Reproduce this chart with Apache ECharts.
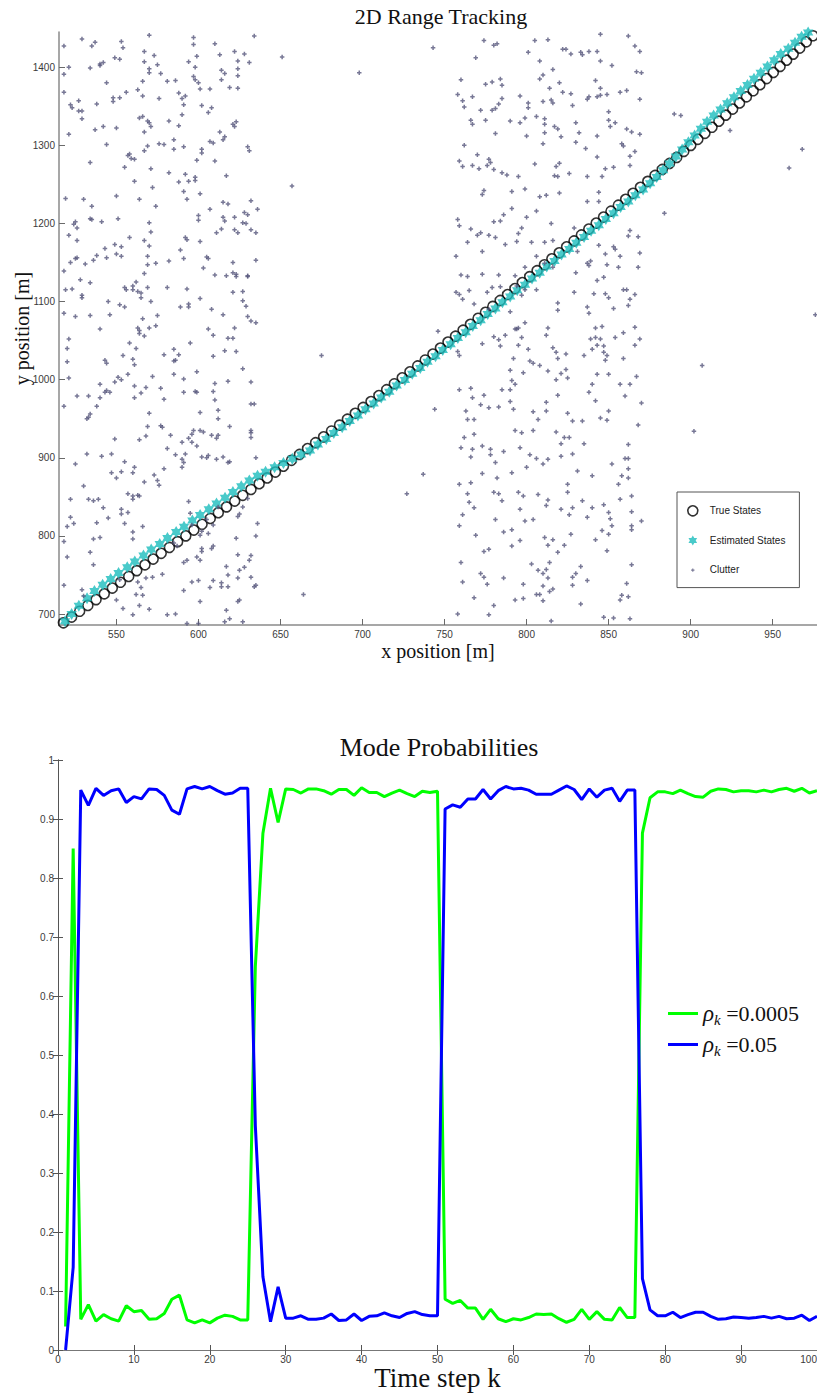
<!DOCTYPE html>
<html><head><meta charset="utf-8">
<script src="https://cdn.jsdelivr.net/npm/echarts@6/dist/echarts.min.js"></script>
<style>html,body{margin:0;padding:0;background:#fff}#c{width:817px;height:1395px}</style>
</head><body><div id="c"></div>
<script>
// ---------- Mode probabilities (time steps 1..100) ----------
const timeSteps = Array.from({length: 100}, (_, i) => i + 1);
const probRhoSmall = [0.04,0.85,0.052,0.077,0.049,0.060,0.053,0.049,0.075,0.065,
  0.067,0.052,0.053,0.062,0.086,0.093,0.051,0.046,0.051,0.046,
  0.054,0.059,0.057,0.051,0.051,0.65,0.876,0.952,0.894,0.951,
  0.950,0.944,0.951,0.951,0.948,0.942,0.950,0.950,0.940,0.953,
  0.945,0.945,0.938,0.944,0.949,0.943,0.938,0.947,0.945,0.947,
  0.086,0.079,0.084,0.071,0.071,0.052,0.069,0.053,0.048,0.053,
  0.051,0.055,0.061,0.060,0.061,0.053,0.047,0.052,0.069,0.052,
  0.065,0.052,0.051,0.072,0.055,0.055,0.876,0.936,0.946,0.946,
  0.943,0.949,0.943,0.938,0.937,0.947,0.951,0.950,0.946,0.948,
  0.948,0.946,0.949,0.946,0.950,0.952,0.947,0.952,0.944,0.948];
const probRhoLarge = [0.0,0.14,0.949,0.923,0.952,0.940,0.948,0.951,0.928,0.938,
  0.934,0.951,0.950,0.940,0.915,0.908,0.951,0.955,0.951,0.955,
  0.948,0.942,0.944,0.952,0.952,0.38,0.124,0.048,0.107,0.054,
  0.054,0.058,0.052,0.052,0.054,0.061,0.050,0.051,0.061,0.050,
  0.057,0.058,0.063,0.058,0.055,0.062,0.065,0.060,0.058,0.058,
  0.917,0.924,0.920,0.934,0.934,0.950,0.934,0.948,0.955,0.951,
  0.952,0.949,0.942,0.942,0.942,0.949,0.956,0.950,0.933,0.951,
  0.937,0.949,0.952,0.930,0.949,0.949,0.121,0.068,0.058,0.058,
  0.064,0.055,0.060,0.064,0.064,0.057,0.052,0.053,0.056,0.055,
  0.054,0.055,0.057,0.054,0.057,0.053,0.054,0.059,0.050,0.057];
const seriesNamesBottom = ['ρk =0.0005', 'ρk =0.05'];

// ---------- 2D tracking ----------
const trueX = [517.7,522.7,527.6,532.6,537.6,542.6,547.5,552.5,557.5,562.4,
  567.4,572.4,577.3,582.3,587.3,592.3,597.2,602.2,607.2,612.1,
  617.1,622.1,627.0,632.0,637.0,641.9,646.9,651.8,656.7,661.6,
  666.5,671.4,676.3,681.1,686.0,690.8,695.6,700.4,705.2,710.0,
  714.7,719.4,724.2,728.9,733.6,738.2,742.9,747.5,752.1,756.7,
  761.3,765.8,770.4,774.9,779.4,783.9,788.4,792.9,797.4,801.9,
  806.4,810.9,815.4,819.9,824.4,828.9,833.4,837.9,842.4,846.9,
  851.4,855.9,860.4,864.9,869.4,873.9,878.3,882.7,887.1,891.5,
  895.8,900.1,904.4,908.7,913.0,917.2,921.4,925.6,929.8,934.0,
  938.1,942.2,946.3,950.4,954.5,958.5,962.5,966.5,970.5,974.5];
const trueY = [688.8,696.2,703.6,711.1,718.5,725.9,733.3,740.7,748.2,755.6,
  763.0,770.4,777.8,785.3,792.7,800.1,807.5,814.9,822.4,829.8,
  837.2,844.6,852.0,859.5,866.9,874.3,881.8,889.3,896.8,904.3,
  911.8,919.3,926.8,934.3,941.8,949.4,956.9,964.5,972.0,979.6,
  987.2,994.8,1002.4,1010.0,1017.6,1025.2,1032.8,1040.4,1048.1,1055.7,
  1063.3,1070.9,1078.6,1086.2,1093.8,1101.4,1109.0,1116.6,1124.3,1131.9,
  1139.5,1147.1,1154.7,1162.4,1170.0,1177.6,1185.2,1192.8,1200.4,1208.1,
  1215.7,1223.3,1230.9,1238.5,1246.2,1253.8,1261.4,1269.1,1276.8,1284.5,
  1292.2,1299.9,1307.6,1315.3,1323.1,1330.8,1338.6,1346.4,1354.2,1362.0,
  1369.8,1377.6,1385.4,1393.2,1401.0,1408.9,1416.7,1424.5,1432.4,1440.2];
const estX = [518.7,522.7,527.1,532.1,536.6,541.6,546.5,551.3,556.6,561.2,
  566.5,571.2,576.4,581.1,586.4,591.2,596.3,601.0,606.3,611.0,
  616.2,621.0,626.1,631.0,636.0,640.9,646.4,651.8,657.2,662.6,
  668.0,672.8,677.9,682.5,687.6,692.2,697.2,701.8,706.8,711.4,
  716.3,720.8,725.8,730.3,735.2,739.6,744.5,748.9,753.7,758.1,
  762.9,767.2,772.0,776.3,781.0,785.3,790.0,794.3,799.0,803.3,
  808.0,812.3,817.0,821.3,826.0,830.3,835.0,839.3,844.0,848.3,
  853.0,857.3,862.0,866.3,871.0,875.3,879.3,883.2,887.1,891.0,
  894.8,898.6,902.4,906.2,910.0,914.0,918.2,922.3,926.4,930.5,
  934.6,938.6,942.7,946.8,950.9,954.9,959.5,963.6,967.6,971.6];
const estY = [690.8,700.2,710.6,720.1,729.5,737.4,745.0,752.4,760.0,767.3,
  775.1,782.6,789.6,797.5,804.9,811.8,819.6,826.7,834.1,841.5,
  849.0,856.1,863.6,870.8,876.9,882.3,887.8,893.3,898.8,904.3,
  909.3,916.9,924.1,931.9,939.1,947.0,954.2,962.1,969.4,977.2,
  984.5,992.5,999.6,1007.6,1014.9,1022.9,1030.1,1038.1,1045.4,1053.4,
  1060.6,1068.6,1075.9,1083.9,1091.1,1099.1,1106.3,1114.3,1121.6,1129.6,
  1136.8,1144.8,1152.0,1160.1,1167.3,1175.3,1182.5,1190.5,1197.7,1205.8,
  1213.0,1221.0,1228.2,1236.2,1243.5,1251.5,1259.4,1268.1,1276.8,1285.5,
  1294.7,1303.9,1312.6,1321.3,1330.1,1338.0,1345.8,1353.8,1361.6,1369.5,
  1377.3,1385.2,1393.0,1401.0,1408.8,1416.8,1423.6,1431.2,1438.8,1444.5];
const clutterPts = [
[518,1427],[529,1436],[535,1427],[537,1432],[553,1433],[554,1425],[570,1441],[597,1438],[597,1429],[610,1430],[634,1440],[567,1420],[573,1415],[521,1400],[518,1391],[534,1399],[540,1404],[540,1402],[542,1406],[549,1412],[552,1410],[567,1407],[570,1398],[570,1393],[575,1403],[577,1392],[594,1407],[598,1400],[599,1414],[613,1416],[622,1420],[628,1417],[624,1408],[624,1398],[624,1389],[631,1406],[614,1396],[616,1392],[614,1384],[566,1382],[581,1382],[586,1383],[597,1388],[598,1384],[600,1380],[601,1372],[607,1372],[619,1374],[624,1373],[544,1380],
[518,1368],[522,1352],[523,1348],[527,1357],[527,1344],[529,1344],[529,1334],[538,1353],[548,1361],[548,1356],[552,1361],[556,1368],[563,1371],[566,1363],[576,1360],[588,1367],[590,1360],[592,1363],[591,1352],[590,1339],[602,1351],[606,1342],[608,1348],[521,1314],[537,1320],[542,1324],[550,1322],[564,1335],[566,1337],[569,1331],[570,1329],[571,1324],[567,1317],[582,1331],[588,1325],[585,1307],[585,1295],[591,1298],[613,1317],[616,1311],[615,1307],[621,1327],[622,1324],[623,1330],[576,1302],[579,1301],[569,1299],[567,1293],[558,1289],[557,1287],[559,1283],[561,1282],[544,1301],[607,1305],[609,1303],[602,1295],[602,1290],[599,1281],[610,1280],[630,1298],[631,1293],[534,1278],[571,1270],[582,1265],[592,1263],[598,1259],[594,1254],[598,1255],[588,1253],[555,1272],[561,1254],[617,1261],
[519,1232],[530,1231],[535,1222],[550,1235],[564,1231],[574,1222],[572,1246],[591,1241],[593,1231],[601,1238],[607,1218],[615,1227],[618,1225],[632,1229],[636,1218],[622,1208],[630,1211],[628,1214],[615,1208],[616,1203],[600,1210],[600,1204],[521,1185],[524,1199],[525,1202],[526,1194],[526,1178],[534,1206],[535,1205],[541,1202],[551,1206],[570,1201],[571,1189],[601,1177],[592,1182],[593,1179],[611,1188],[614,1193],[622,1192],[624,1188],[627,1201],[629,1200],[632,1192],[635,1188],[558,1182],[567,1178],[570,1171],[549,1173],[553,1170],[543,1168],[538,1159],[536,1153],[544,1156],[550,1161],[553,1158],[569,1158],[569,1147],[574,1149],[522,1150],[525,1155],[526,1156],[531,1148],[589,1166],[591,1155],[582,1152],[605,1157],[606,1155],[603,1143],[610,1134],[617,1133],[621,1150],[621,1137],[623,1135],[623,1132],[630,1133],[635,1153],
[518,1139],[528,1128],[534,1124],[529,1105],[529,1108],[519,1115],[523,1116],[518,1085],[525,1081],[534,1082],[540,1065],[545,1100],[546,1083],[552,1096],[555,1093],[555,1118],[556,1115],[560,1120],[560,1115],[562,1125],[563,1113],[565,1111],[565,1105],[567,1136],[569,1118],[571,1100],[575,1082],[563,1066],[566,1078],[570,1066],[574,1069],[581,1118],[589,1093],[594,1097],[594,1093],[593,1116],[601,1104],[608,1090],[615,1083],[621,1112],[627,1101],[629,1094],[630,1081],[632,1075],[635,1073],[622,1066],[627,1113],[630,1132],[651,1413],[657,1248],[698,1393],
[521,1052],[520,1040],[520,1023],[521,1002],[518,966],[526,979],[533,979],[533,952],[532,950],[534,956],[538,966],[540,977],[540,994],[543,1025],[544,1021],[543,984],[544,986],[546,984],[549,997],[551,1003],[553,1000],[554,1031],[557,1007],[558,1047],[560,1026],[561,1019],[562,1040],[561,992],[561,977],[564,1063],[564,1059],[567,1056],[568,990],[572,1004],[570,957],[569,940],[568,928],[564,923],[565,983],[579,1032],[585,1039],[586,1025],[585,1024],[588,1032],[585,1007],[591,1001],[595,1047],[599,1010],[598,985],[601,958],[599,984],[591,984],[577,989],[579,975],[577,941],[578,939],[581,912],[583,929],[590,920],[592,905],[586,904],[590,898],[591,894],[590,888],[594,925],[596,920],[599,915],[596,930],[597,935],[601,935],[603,933],[602,901],[605,900],[606,903],[609,1057],[609,1030],[609,985],[610,974],[610,995],[612,961],[612,950],[608,929],[612,929],[611,925],[611,898],[615,901],[616,1037],[618,1053],[621,1053],[623,1036],[618,998],[619,940],[618,894],[619,895],[627,1014],[632,997],[632,969],[634,969],[632,932],[632,926],[635,900],[606,1065],
[518,793],[522,824],[524,816],[520,812],[520,773],[518,737],[525,892],[522,847],[530,864],[533,847],[536,845],[539,847],[542,836],[545,823],[536,796],[540,798],[534,779],[553,828],[553,834],[555,816],[557,854],[557,830],[560,847],[560,851],[563,852],[564,851],[567,869],[561,888],[560,881],[555,895],[553,882],[550,874],[547,881],[549,924],[547,905],[541,902],[532,905],[560,805],[560,796],[566,812],[573,878],[575,871],[576,865],[579,886],[594,844],[595,829],[596,814],[601,801],[602,784],[606,803],[609,787],[608,784],[599,773],[601,769],[602,780],[593,769],[591,766],[587,787],[585,791],[578,751],[572,747],[568,746],[565,734],[563,741],[562,725],[554,707],[550,718],[552,744],[560,699],[564,711],[566,724],[570,706],[581,699],[586,700],[591,730],[596,741],[600,743],[607,734],[609,743],[617,761],[618,750],[618,735],[624,746],[625,756],[628,760],[631,769],[632,747],[634,735],[635,737],[625,718],[624,716],[627,690],[616,690],[619,694],[617,705],[601,716],[593,688],[600,688],[614,735],[614,740],[605,821],[609,814],[602,806],[612,837],[624,825],[625,828],[630,848],[623,797],[624,776],[632,775],[636,816],[635,800],[627,837],[632,935],[538,817],[536,763],[529,731],[530,723],[675,1031],[727,854],[664,725],
[743,1425],[774,1434],[780,1428],[782,1430],[805,1434],[813,1435],[845,1442],[862,1440],[866,1427],[869,1420],[801,1419],[769,1412],[822,1423],[824,1423],[827,1417],[833,1419],[834,1416],[838,1420],[843,1420],[845,1408],[852,1402],[808,1408],[816,1397],[760,1384],[775,1378],[779,1381],[784,1385],[785,1377],[808,1385],[810,1390],[820,1380],[814,1373],[822,1368],[827,1366],[842,1383],[845,1373],[867,1394],[870,1393],[758,1365],[767,1362],[761,1357],[762,1349],[772,1345],[779,1345],[781,1347],[783,1353],[785,1360],[796,1363],[801,1354],[801,1348],[810,1356],[815,1358],[816,1354],[828,1351],[837,1359],[838,1362],[843,1362],[845,1364],[849,1365],[857,1368],[861,1370],[869,1359],[766,1332],[767,1327],[775,1332],[781,1315],[790,1331],[796,1329],[799,1335],[806,1337],[811,1334],[811,1327],[811,1316],[817,1324],[819,1321],[821,1311],[830,1329],[832,1316],[800,1312],[810,1302],[830,1304],[836,1296],[843,1312],[850,1343],[851,1324],[854,1329],[850,1332],[861,1321],[864,1317],[869,1314],[858,1302],[859,1299],[866,1292],[762,1300],[770,1288],[759,1280],[761,1273],[767,1274],[771,1270],[777,1282],[778,1278],[776,1274],[780,1269],[785,1265],[788,1262],[795,1260],[799,1244],[805,1276],[818,1273],[820,1277],[817,1261],[819,1260],[826,1264],[837,1260],[843,1285],[846,1260],[848,1270],[853,1272],[863,1286],[863,1274],[774,1242],[773,1237],[791,1241],[808,1234],[812,1236],[820,1239],[844,1240],[837,1228],[844,1228],[758,1205],[759,1197],[766,1193],[770,1185],[772,1188],[780,1202],[784,1203],[786,1211],[791,1219],[777,1185],[781,1182],[797,1194],[795,1187],[800,1208],[806,1216],[815,1200],[816,1178],[811,1176],[803,1176],[764,1176],[773,1164],[787,1173],[794,1177],[806,1158],[829,1194],[831,1164],[837,1149],[844,1172],[848,1161],[853,1170],[854,1167],[857,1158],[863,1191],[862,1184],[868,1183],[869,1162],[757,1158],[760,1134],[764,1132],[773,1135],[783,1134],[793,1133],[799,1144],[811,1149],[816,1144],[830,1137],[839,1152],[838,1146],[843,1127],[847,1131],[849,1147],[856,1144],[868,1144],[757,1112],[759,1109],[765,1114],[761,1103],[776,1112],[779,1118],[784,1119],[790,1087],[794,1120],[799,1115],[797,1108],[806,1115],[819,1098],[829,1112],[837,1093],[838,1085],[841,1110],[848,1110],[850,1105],[853,1091],[859,1115],[861,1115],[863,1103],[862,1095],[866,1109],[768,1097],[777,1090],[794,1065],[799,1073],[813,1066],[819,1089],[842,1066],[846,1068],[866,1067],[884,1213],[890,1340],[894,1338],[924,1319],[960,1271],[968,1295],[976,1083],
[746,1062],[758,1036],[759,1031],[759,987],[773,1046],[780,1055],[783,1051],[784,1043],[787,1057],[793,1065],[795,1066],[795,1044],[797,1054],[801,1039],[802,1024],[804,1021],[808,1018],[792,1027],[790,1012],[791,999],[793,994],[798,1009],[812,1057],[816,1041],[818,1035],[824,1033],[819,1027],[813,1011],[818,1000],[821,1008],[824,1013],[825,1002],[835,1031],[840,1039],[843,1044],[842,1054],[839,1052],[845,1052],[847,1043],[847,1035],[849,1031],[848,1025],[850,1007],[843,1007],[840,994],[838,984],[842,973],[845,951],[849,948],[850,960],[854,1054],[859,1060],[859,1027],[857,994],[863,994],[860,979],[867,1004],[866,1044],[869,1052],[870,970],[868,942],[766,989],[767,977],[772,968],[774,980],[777,964],[783,965],[785,987],[790,987],[790,972],[792,962],[763,960],[764,949],[768,949],[768,930],[762,926],[760,913],[767,911],[766,901],[773,915],[778,911],[778,904],[781,894],[786,908],[773,880],[782,874],[791,881],[796,913],[800,888],[802,904],[804,935],[797,932],[793,935],[806,899],[810,892],[813,898],[818,933],[821,918],[823,926],[826,926],[821,902],[828,905],[812,971],[812,960],[804,959],[807,949],[825,957],[828,947],[834,947],[819,980],[835,918],[831,883],[840,877],[852,892],[858,877],[862,874],[862,886],[862,899],[860,899],[862,917],[759,866],[764,854],[766,868],[765,843],[768,836],[761,827],[759,813],[769,801],[780,856],[783,854],[785,845],[781,821],[786,805],[791,808],[795,856],[798,851],[796,834],[799,819],[804,821],[807,853],[813,846],[812,839],[821,834],[825,856],[825,866],[826,827],[828,836],[834,845],[840,836],[837,824],[847,840],[850,830],[851,822],[852,813],[846,807],[850,802],[857,847],[856,866],[864,851],[864,831],[870,819],[864,813],[864,808],[796,794],[791,787],[811,798],[813,788],[816,795],[819,779],[823,788],[827,802],[842,795],[849,781],[774,780],[777,783],[772,752],[774,747],[776,738],[786,746],[793,718],[798,738],[798,720],[803,764],[807,756],[810,752],[812,757],[813,746],[814,766],[810,736],[806,725],[808,725],[814,729],[816,732],[810,717],[828,747],[828,737],[830,752],[833,761],[837,743],[833,713],[760,766],[761,741],[768,721],[780,711],[777,699],[758,700],[815,691],[847,696],[853,695],[863,694],[858,724],[857,718],[862,722],[861,739],[864,763],[744,962],[737,879],[907,1018],[902,934]
];
const xTicksTop = [550,600,650,700,750,800,850,900,950];
const yTicksTop = [700,800,900,1000,1100,1200,1300,1400];
const legendNamesTop = ['True States','Estimated States','Clutter'];

const STAR = 'path://M100 0L128.9 50L186.6 50L157.7 100L186.6 150L128.9 150L100 200L71.1 150L13.4 150L42.3 100L13.4 50L71.1 50Z';
const PLUS = 'path://M1 0H2V1H3V2H2V3H1V2H0V1H1Z';
const PLUS_LEG = 'path://M4 3.5H5V4.5H6V5.5H5V6.5H4V5.5H3V4.5H4Z M0 0H0.01V0.01H0Z M9 9H9.01V9.01H9Z';
const CYAN = '#1cbdbd';
const CLUT = '#56567c';
const labelFont = {fontFamily: 'Liberation Sans, Arial, sans-serif', fontSize: 10, color: '#3a3a3a'};
const serif = 'Liberation Serif, Times New Roman, serif';
const plainNum = v => String(Math.round(v * 1000) / 1000);

const chart = echarts.init(document.getElementById('c'), null, {renderer: 'svg', width: 817, height: 1395});
chart.setOption({
  animation: false,
  backgroundColor: '#ffffff',
  graphic: [
    {type: 'text', x: 441, y: 16, style: {text: '2D Range Tracking', font: '22px ' + serif, fill: '#111', align: 'center', verticalAlign: 'middle'}},
    {type: 'text', x: 439, y: 747, style: {text: 'Mode Probabilities', font: '26px ' + serif, fill: '#111', align: 'center', verticalAlign: 'middle'}}
  ],
  grid: [
    {left: 59, top: 32, right: 0, bottom: 770, containLabel: false, outerBoundsMode: 'none'},
    {left: 58, top: 760, right: 0, bottom: 45, containLabel: false, outerBoundsMode: 'none'}
  ],
  xAxis: [
    {gridIndex: 0, type: 'value', min: 515, max: 977, position: 'bottom',
     name: 'x position [m]', nameLocation: 'middle', nameGap: 16,
     nameTextStyle: {fontFamily: serif, fontSize: 20, color: '#111'},
     axisLine: {lineStyle: {color: '#8a8a8a', width: 1.5}},
     axisTick: {inside: true, length: 6, customValues: xTicksTop, lineStyle: {color: '#6a6a6a'}},
     axisLabel: Object.assign({margin: 4, customValues: xTicksTop, formatter: plainNum}, labelFont),
     splitLine: {show: false}},
    {gridIndex: 1, type: 'value', min: 0, max: 100, interval: 10, position: 'bottom',
     name: 'Time step k', nameLocation: 'middle', nameGap: 12,
     nameTextStyle: {fontFamily: serif, fontSize: 27, color: '#111'},
     axisLine: {lineStyle: {color: '#555', width: 1}},
     axisTick: {inside: true, length: 5, lineStyle: {color: '#555'}},
     axisLabel: Object.assign({margin: 4, formatter: plainNum, alignMaxLabel: 'right'}, labelFont),
     splitLine: {show: false}},
    {gridIndex: 1, type: 'value', min: 0, max: 100, interval: 10, position: 'top',
     axisLine: {lineStyle: {color: '#777', width: 1}},
     axisTick: {inside: true, length: 5, lineStyle: {color: '#555'}},
     axisLabel: {show: false}, splitLine: {show: false}}
  ],
  yAxis: [
    {gridIndex: 0, type: 'value', min: 686, max: 1445, position: 'left',
     name: 'y position [m]', nameLocation: 'middle', nameGap: 27, nameMoveOverlap: false,
     nameTextStyle: {fontFamily: serif, fontSize: 20, color: '#111'},
     axisLine: {lineStyle: {color: '#8a8a8a', width: 1.5}},
     axisTick: {inside: true, length: 6, customValues: yTicksTop, lineStyle: {color: '#6a6a6a'}},
     axisLabel: Object.assign({margin: 4, customValues: yTicksTop, formatter: plainNum}, labelFont),
     splitLine: {show: false}},
    {gridIndex: 1, type: 'value', min: 0, max: 1, interval: 0.1, position: 'left',
     axisLine: {lineStyle: {color: '#555', width: 1}},
     axisTick: {inside: true, length: 5, lineStyle: {color: '#555'}},
     axisLabel: Object.assign({margin: 4, formatter: plainNum}, labelFont),
     splitLine: {show: false}},
    {gridIndex: 1, type: 'value', min: 0, max: 1, interval: 0.1, position: 'right',
     axisLine: {lineStyle: {color: '#555', width: 1}},
     axisTick: {inside: true, length: 5, lineStyle: {color: '#555'}},
     axisLabel: {show: false}, splitLine: {show: false}}
  ],
  legend: [
    {orient: 'vertical', left: 677, top: 492, padding: [13, 14, 13, 10],
     itemWidth: 24, itemHeight: 10, itemGap: 19,
     borderColor: '#555', borderWidth: 1, backgroundColor: '#fff',
     textStyle: {fontFamily: 'Liberation Sans, Arial, sans-serif', fontSize: 10, color: '#222'},
     data: [
       {name: legendNamesTop[0], icon: 'circle', itemStyle: {color: 'rgba(0,0,0,0)', borderColor: '#000', borderWidth: 1.6}},
       {name: legendNamesTop[1], icon: STAR, itemStyle: {color: CYAN}},
       {name: legendNamesTop[2], icon: PLUS_LEG, itemStyle: {color: CLUT}}
     ]},
    {orient: 'vertical', left: 668, top: 1000, padding: 0,
     itemWidth: 30, itemHeight: 3, itemGap: 4,
     data: [
       {name: seriesNamesBottom[0], icon: 'rect', itemStyle: {color: '#00ff00'}},
       {name: seriesNamesBottom[1], icon: 'rect', itemStyle: {color: '#0000ff'}}
     ],
     formatter: function (name) {
       const rest = name.slice(2);
       return '{r|ρ}{k|k}{t|' + rest + '}';
     },
     textStyle: {
       rich: {
         r: {fontFamily: serif, fontStyle: 'italic', fontSize: 23, color: '#111', lineHeight: 24},
         k: {fontFamily: serif, fontStyle: 'italic', fontSize: 15, color: '#111', lineHeight: 24, padding: [12, 0, 0, 0]},
         t: {fontFamily: serif, fontSize: 22, color: '#111', lineHeight: 24}
       }
     }}
  ],
  series: [
    {name: legendNamesTop[0], type: 'scatter', xAxisIndex: 0, yAxisIndex: 0,
     data: trueX.map((x, i) => [x, trueY[i]]),
     symbol: 'circle', symbolSize: 10,
     itemStyle: {color: 'rgba(0,0,0,0)', borderColor: '#000', borderWidth: 1.6}, z: 2},
    {name: legendNamesTop[1], type: 'scatter', xAxisIndex: 0, yAxisIndex: 0,
     data: estX.map((x, i) => [x, estY[i]]),
     symbol: STAR, symbolSize: 12, symbolKeepAspect: true,
     itemStyle: {color: CYAN}, z: 3},
    {name: legendNamesTop[2], type: 'scatter', xAxisIndex: 0, yAxisIndex: 0,
     data: clutterPts,
     symbol: PLUS, symbolSize: 4.5,
     itemStyle: {color: CLUT}, z: 4},
    {name: seriesNamesBottom[0], type: 'line', xAxisIndex: 1, yAxisIndex: 1,
     data: timeSteps.map((k, i) => [k, probRhoSmall[i]]),
     symbol: 'none', color: '#00ff00', lineStyle: {color: '#00ff00', width: 3}, z: 2},
    {name: seriesNamesBottom[1], type: 'line', xAxisIndex: 1, yAxisIndex: 1,
     data: timeSteps.map((k, i) => [k, probRhoLarge[i]]),
     symbol: 'none', color: '#0000ff', lineStyle: {color: '#0000ff', width: 3}, z: 3}
  ]
});
</script>
</body></html>
